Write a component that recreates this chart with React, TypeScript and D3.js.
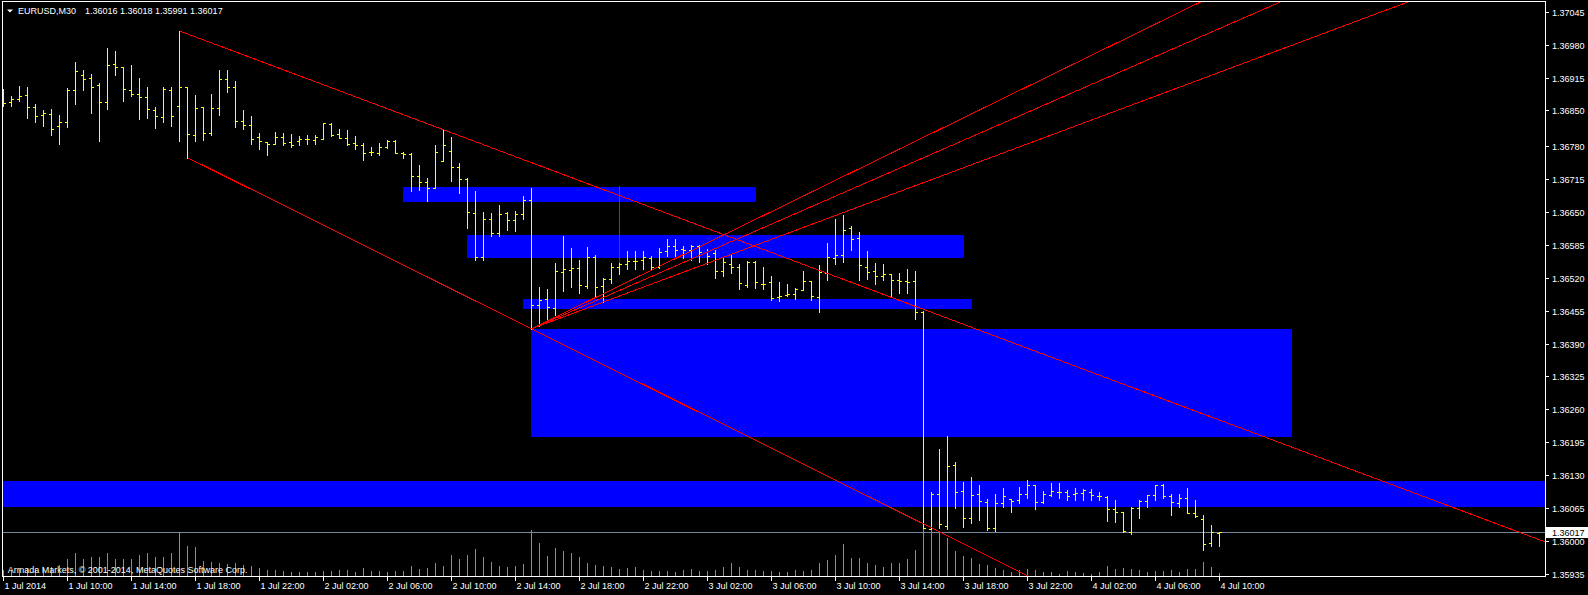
import React from "react";
import * as d3 from "d3";

// EURUSD M30 bars, starting 1 Jul 2014 06:00 (server time)
const symbol = "EURUSD,M30";
const barStart = Date.UTC(2014, 6, 1, 6, 0);
const barMinutes = 30;

const opens = [
  1.36877, 1.36866, 1.36872, 1.3688, 1.36857, 1.36841, 1.36844, 1.36819, 1.36827, 1.3689,
  1.36921, 1.36914, 1.369, 1.36866, 1.36941, 1.36935, 1.3689, 1.36882, 1.36877, 1.3685,
  1.36837, 1.3689, 1.36859, 1.36896, 1.36802, 1.36856, 1.36805, 1.36855, 1.36912, 1.36896,
  1.36829, 1.36821, 1.36798, 1.36787, 1.36784, 1.36798, 1.36787, 1.3679, 1.36793, 1.36792,
  1.36793, 1.36824, 1.36804, 1.36796, 1.36785, 1.36782, 1.36768, 1.36767, 1.36777, 1.3679,
  1.36767, 1.36765, 1.3672, 1.36708, 1.36696, 1.3675, 1.36771, 1.36738, 1.36715, 1.36647,
  1.36561, 1.36636, 1.36608, 1.36648, 1.36633, 1.36646, 1.36673, 1.36467, 1.36477, 1.36461,
  1.36531, 1.36535, 1.3654, 1.36503, 1.3656, 1.36503, 1.36518, 1.36542, 1.36546, 1.36552,
  1.36555, 1.36559, 1.36542, 1.36573, 1.36582, 1.36576, 1.36575, 1.36583, 1.36571, 1.36568,
  1.36533, 1.36546, 1.36542, 1.36506, 1.36551, 1.36508, 1.36511, 1.36481, 1.36485, 1.36488,
  1.36496, 1.36513, 1.36481, 1.36529, 1.36558, 1.36564, 1.36618, 1.36598, 1.36542, 1.36533,
  1.36523, 1.36527, 1.36515, 1.36513, 1.36513, 1.36453, 1.36024, 1.36092, 1.36029, 1.3615,
  1.36098, 1.36045, 1.36092, 1.36078, 1.36025, 1.36075, 1.36084, 1.36082, 1.36092, 1.3611,
  1.36077, 1.3609, 1.36097, 1.36097, 1.36093, 1.36094, 1.36097, 1.36089, 1.36087, 1.36063,
  1.36057, 1.36017, 1.36065, 1.3608, 1.3609, 1.3611, 1.36088, 1.36075, 1.36086, 1.36055,
  1.36043, 1.35996, 1.36016,
];

const highs = [
  1.36892, 1.36879, 1.36898, 1.36896, 1.36863, 1.3685, 1.36853, 1.36841, 1.36894, 1.36946,
  1.3693, 1.36922, 1.36904, 1.36973, 1.36967, 1.36935, 1.3694, 1.36914, 1.36896, 1.36857,
  1.36896, 1.36896, 1.37007, 1.36896, 1.36881, 1.36857, 1.36883, 1.3693, 1.3693, 1.36908,
  1.36851, 1.36839, 1.36806, 1.36787, 1.36808, 1.36806, 1.36804, 1.368, 1.36802, 1.36802,
  1.36825, 1.36825, 1.36813, 1.36811, 1.368, 1.36786, 1.36777, 1.36786, 1.36791, 1.36791,
  1.36769, 1.36766, 1.36743, 1.36717, 1.36782, 1.36811, 1.36798, 1.36746, 1.36716, 1.36691,
  1.36649, 1.36648, 1.36663, 1.36649, 1.36651, 1.36681, 1.36697, 1.36502, 1.36498, 1.36549,
  1.36602, 1.36578, 1.36554, 1.3658, 1.36564, 1.36519, 1.36549, 1.36548, 1.36573, 1.36573,
  1.36573, 1.36563, 1.36578, 1.36596, 1.36596, 1.36583, 1.36585, 1.36585, 1.36577, 1.36575,
  1.36559, 1.36565, 1.36546, 1.36552, 1.36552, 1.36541, 1.36523, 1.36511, 1.36507, 1.365,
  1.36533, 1.36513, 1.36544, 1.36588, 1.36636, 1.36644, 1.36622, 1.3661, 1.36573, 1.36549,
  1.36547, 1.36527, 1.36529, 1.36537, 1.36533, 1.36454, 1.36096, 1.36182, 1.36207, 1.36156,
  1.36117, 1.36126, 1.36111, 1.36083, 1.36093, 1.36105, 1.36084, 1.36107, 1.36121, 1.3611,
  1.36099, 1.36115, 1.36115, 1.36101, 1.36105, 1.36103, 1.36103, 1.36097, 1.36088, 1.36081,
  1.36057, 1.36067, 1.36081, 1.3609, 1.3611, 1.36112, 1.36093, 1.36093, 1.36105, 1.36081,
  1.36051, 1.36032, 1.36018,
];

const lows = [
  1.36859, 1.36859, 1.36869, 1.36836, 1.36828, 1.3682, 1.36802, 1.36784, 1.36818, 1.36863,
  1.36891, 1.36846, 1.3679, 1.36853, 1.36921, 1.36869, 1.36878, 1.36834, 1.36836, 1.36816,
  1.36828, 1.3682, 1.3679, 1.36757, 1.3679, 1.36792, 1.36801, 1.36842, 1.36887, 1.36818,
  1.36813, 1.36784, 1.36773, 1.36763, 1.36783, 1.36781, 1.36778, 1.36781, 1.36783, 1.36784,
  1.36793, 1.36799, 1.36795, 1.36781, 1.36773, 1.36753, 1.36763, 1.36763, 1.36775, 1.36767,
  1.36757, 1.36692, 1.36694, 1.36672, 1.36696, 1.3675, 1.36711, 1.36687, 1.36619, 1.36555,
  1.36555, 1.36602, 1.36603, 1.36614, 1.36613, 1.36636, 1.36419, 1.36425, 1.36434, 1.36446,
  1.36494, 1.36502, 1.36489, 1.36499, 1.36484, 1.36472, 1.3651, 1.36527, 1.36537, 1.36537,
  1.36538, 1.36538, 1.3654, 1.36563, 1.36563, 1.36559, 1.36555, 1.36551, 1.36546, 1.3652,
  1.36524, 1.3653, 1.36498, 1.36502, 1.365, 1.36498, 1.36475, 1.36473, 1.36483, 1.36477,
  1.36495, 1.36475, 1.36453, 1.36515, 1.36547, 1.36551, 1.36575, 1.36515, 1.36517, 1.36508,
  1.36515, 1.36484, 1.3649, 1.3649, 1.36439, 1.36025, 1.36024, 1.36026, 1.36024, 1.36065,
  1.36028, 1.36035, 1.36042, 1.36022, 1.3602, 1.36067, 1.36058, 1.36075, 1.36086, 1.36064,
  1.36075, 1.36088, 1.36085, 1.36082, 1.36081, 1.36081, 1.36081, 1.36081, 1.3604, 1.36038,
  1.36017, 1.36013, 1.36046, 1.36068, 1.36081, 1.36086, 1.36051, 1.36068, 1.36055, 1.36048,
  1.35982, 1.35991, 1.35991,
];

const closes = [
  1.36864, 1.36873, 1.36879, 1.36856, 1.36839, 1.36845, 1.36813, 1.36827, 1.3689, 1.36927,
  1.36912, 1.36896, 1.36866, 1.36939, 1.36935, 1.36892, 1.36882, 1.36877, 1.36853, 1.3684,
  1.36892, 1.36839, 1.36896, 1.36804, 1.36855, 1.36805, 1.36855, 1.36912, 1.36896, 1.36829,
  1.36821, 1.36794, 1.3679, 1.36784, 1.36798, 1.36786, 1.36781, 1.36794, 1.36793, 1.36798,
  1.36825, 1.36802, 1.36796, 1.36783, 1.36782, 1.36767, 1.36769, 1.36778, 1.3679, 1.36767,
  1.36764, 1.3672, 1.36709, 1.36696, 1.36768, 1.36781, 1.36738, 1.36714, 1.36649, 1.36561,
  1.36636, 1.36608, 1.36646, 1.36633, 1.36646, 1.36673, 1.36467, 1.36475, 1.36463, 1.36533,
  1.36538, 1.3654, 1.36505, 1.3656, 1.36502, 1.36518, 1.36542, 1.36546, 1.36552, 1.36552,
  1.3656, 1.36542, 1.36571, 1.36582, 1.36575, 1.36575, 1.36583, 1.36571, 1.36563, 1.36533,
  1.3655, 1.36542, 1.36509, 1.36551, 1.36511, 1.36508, 1.36479, 1.36483, 1.36488, 1.36498,
  1.36513, 1.36483, 1.36531, 1.3656, 1.36564, 1.36615, 1.36596, 1.36544, 1.36531, 1.36523,
  1.36527, 1.36515, 1.36514, 1.36511, 1.36452, 1.36025, 1.36092, 1.36034, 1.36148, 1.36096,
  1.36045, 1.3609, 1.3608, 1.36026, 1.36075, 1.36088, 1.3608, 1.36092, 1.3611, 1.36077,
  1.36092, 1.36099, 1.36097, 1.36088, 1.36095, 1.361, 1.36091, 1.36088, 1.36063, 1.36057,
  1.36019, 1.36065, 1.36079, 1.3609, 1.3611, 1.36088, 1.36077, 1.36086, 1.36055, 1.36049,
  1.35994, 1.36017, 1.36017,
];

// tick volumes
const volumes = [
  63, 56, 73, 80, 73, 66, 90, 106, 166, 226,
  166, 186, 193, 233, 166, 173, 166, 206, 226, 186,
  193, 233, 430, 300, 286, 153, 140, 133, 123, 133,
  106, 100, 80, 60, 60, 53, 40, 43, 43, 36,
  46, 50, 56, 56, 43, 83, 53, 50, 43, 53,
  46, 100, 73, 80, 133, 100, 206, 166, 206, 273,
  193, 140, 100, 86, 100, 120, 460, 333, 200, 280,
  253, 233, 186, 133, 113, 100, 93, 73, 80, 86,
  60, 53, 46, 46, 43, 60, 66, 53, 53, 60,
  93, 133, 93, 60, 56, 46, 53, 43, 40, 57,
  50, 57, 127, 157, 207, 317, 183, 183, 133, 113,
  93, 130, 130, 170, 260, 720, 540, 450, 380, 250,
  197, 183, 123, 113, 80, 60, 43, 60, 67, 60,
  40, 40, 20, 50, 40, 33, 20, 43, 103, 70,
  80, 67, 60, 43, 53, 53, 60, 43, 70, 70,
  143, 90, 33,
];

const priceTicks = [
  1.37045, 1.3698, 1.36915, 1.3685, 1.3678, 1.36715, 1.3665, 1.36585, 1.3652,
  1.36455, 1.3639, 1.36325, 1.3626, 1.36195, 1.3613, 1.36065, 1.36, 1.35935,
];

const timeTickHours = 4;
const timeTickLabels = [
  "1 Jul 2014", "1 Jul 10:00", "1 Jul 14:00", "1 Jul 18:00", "1 Jul 22:00",
  "2 Jul 02:00", "2 Jul 06:00", "2 Jul 10:00", "2 Jul 14:00", "2 Jul 18:00",
  "2 Jul 22:00", "3 Jul 02:00", "3 Jul 06:00", "3 Jul 10:00", "3 Jul 14:00",
  "3 Jul 18:00", "3 Jul 22:00", "4 Jul 02:00", "4 Jul 06:00", "4 Jul 10:00",
];

// rectangle objects (bar index range, price range)
const zoneFromBar = [50, 58, 65, 66, -30];
const zoneToBar = [94, 120, 121, 161, 240];
const zoneTop = [1.36698, 1.36604, 1.36478, 1.36419, 1.36119];
const zoneBottom = [1.36672, 1.3656, 1.36461, 1.36208, 1.3607];

// trendline objects
const trendFromBar = [22, 23, 66, 66, 66, 77];
const trendFromPrice = [1.37007, 1.36757, 1.36419, 1.36419, 1.36419, 1.367];
const trendToBar = [55, 66, 94, 94, 75, 77];
const trendToPrice = [1.36812, 1.36419, 1.36635, 1.36612, 1.36472, 1.36548];
const trendRay = [true, true, true, true, true, false];

const copyright = "Armada Markets, © 2001-2014, MetaQuotes Software Corp.";

const W = 1588;
const H = 595;
const plotLeft = 3;
const plotRight = 1545;
const plotTop = 2;
const plotBottom = 576;
const font = "'Liberation Sans', Arial, sans-serif";

const barTime = (i: number) => new Date(barStart + i * barMinutes * 60000);

export default function App() {
  const x = d3.scaleUtc().domain([barTime(0), barTime(1)]).range([3, 11]);
  const y = d3.scaleLinear().domain([1.35935, 1.37045]).range([574, 11.7]);
  const yVol = d3.scaleLinear().domain([0, 720]).range([plotBottom, plotBottom - 72]);

  const col = (i: number) => Math.round(x(barTime(i)));
  const row = (p: number) => Math.round(y(p));

  const n = closes.length;
  const last = n - 1;
  const lastY = row(closes[last]) + 0.5;

  const trendLines = trendFromBar.map((b1, k) => {
    const b2 = trendToBar[k];
    const p1 = trendFromPrice[k];
    const p2 = trendToPrice[k];
    let bEnd = b2;
    let pEnd = p2;
    if (trendRay[k] && b2 !== b1) {
      bEnd = 260;
      pEnd = p1 + ((p2 - p1) * (bEnd - b1)) / (b2 - b1);
    }
    return {
      x1: col(b1) + 0.5,
      y1: y(p1),
      x2: col(bEnd) + 0.5,
      y2: y(pEnd),
    };
  });

  return (
    <svg
      width={W}
      height={H}
      style={{ position: "absolute", left: 0, top: 0, background: "#000" }}
      fontFamily={font}
      fontSize={9}
    >
      <defs>
        <clipPath id="plot">
          <rect x={plotLeft} y={plotTop} width={plotRight - plotLeft} height={plotBottom - plotTop} />
        </clipPath>
      </defs>
      <rect x={0} y={0} width={W} height={H} fill="#000" />

      <g clipPath="url(#plot)" shapeRendering="crispEdges">
        {/* rectangle objects */}
        {zoneFromBar.map((b, k) => {
          const x1 = col(b);
          const x2 = col(zoneToBar[k]);
          const y1 = row(zoneTop[k]);
          const y2 = row(zoneBottom[k]);
          return <rect key={"z" + k} x={x1} y={y1} width={x2 - x1 + 1} height={y2 - y1 + 1} fill="#0000FF" />;
        })}

        {/* tick volumes */}
        {volumes.map((v, i) => {
          const top = Math.round(yVol(v));
          return <rect key={"v" + i} x={col(i)} y={top} width={1} height={plotBottom - top} fill="#32CD32" />;
        })}

        {/* bid line */}
        <line x1={plotLeft} x2={plotRight} y1={lastY} y2={lastY} stroke="#778899" strokeWidth={1} />

        {/* OHLC bars */}
        {closes.map((c, i) => {
          const cx = col(i);
          const yh = row(highs[i]);
          const yl = row(lows[i]);
          return (
            <g key={"b" + i} fill="#FFFF00">
              <rect x={cx} y={yh} width={1} height={yl - yh + 1} />
              <rect x={cx - 2} y={row(opens[i])} width={2} height={1} />
              <rect x={cx + 1} y={row(c)} width={2} height={1} />
            </g>
          );
        })}

        {/* trendlines */}
        {trendLines.map((l, k) => (
          <line key={"t" + k} x1={l.x1} y1={l.y1} x2={l.x2} y2={l.y2} stroke="#FF0000" strokeWidth={1} />
        ))}
      </g>

      {/* frame */}
      <rect
        x={plotLeft - 0.5}
        y={plotTop - 0.5}
        width={plotRight - plotLeft + 1}
        height={plotBottom - plotTop + 1}
        fill="none"
        stroke="#FFFFFF"
        strokeWidth={1}
        shapeRendering="crispEdges"
      />

      {/* price axis */}
      {priceTicks.map((v) => {
        const ty = row(v) + 0.5;
        return (
          <g key={"p" + v}>
            <line x1={plotRight + 0.5} x2={plotRight + 4} y1={ty} y2={ty} stroke="#FFFFFF" shapeRendering="crispEdges" />
            <text x={plotRight + 7} y={ty + 3.3} fill="#FFFFFF">
              {v.toFixed(5)}
            </text>
          </g>
        );
      })}

      {/* bid label */}
      <rect x={plotRight + 1} y={lastY - 5.5} width={W - plotRight - 1} height={11} fill="#FFFFFF" />
      <text x={plotRight + 7} y={lastY + 3.3} fill="#000000">
        {closes[last].toFixed(5)}
      </text>

      {/* time axis */}
      {timeTickLabels.map((label, k) => {
        const tx = Math.round(x(new Date(barStart + k * timeTickHours * 3600000))) + 0.5;
        return (
          <g key={"tt" + k}>
            <line x1={tx} x2={tx} y1={plotBottom + 0.5} y2={plotBottom + 4.5} stroke="#FFFFFF" shapeRendering="crispEdges" />
            <text x={tx + 1} y={589} fill="#FFFFFF">
              {label}
            </text>
          </g>
        );
      })}

      {/* header */}
      <path d="M7,9.5 L13,9.5 L10,12.5 Z" fill="#FFFFFF" />
      <text x={18} y={13.7} fill="#FFFFFF">
        {symbol}
      </text>
      <text x={85} y={13.7} fill="#FFFFFF">
        {[opens[last], highs[last], lows[last], closes[last]].map((v) => v.toFixed(5)).join(" ")}
      </text>

      <text x={7.7} y={572.5} fill="#FFFFFF">
        {copyright}
      </text>
    </svg>
  );
}
